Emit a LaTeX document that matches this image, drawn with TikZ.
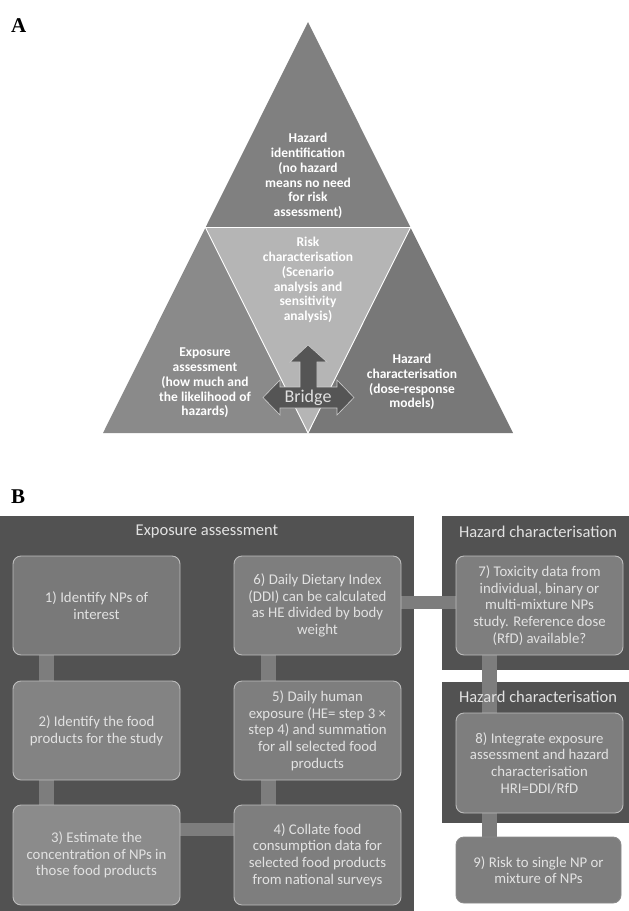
\documentclass[tikz,border=0pt]{standalone}
\usepackage{fontspec}
\setmainfont{Carlito}
\newfontfamily\panelfont{Liberation Serif}
\pgfdeclarelayer{panels}
\pgfdeclarelayer{links}
\pgfsetlayers{panels,links,main}
\definecolor{topgray}{HTML}{808080}
\definecolor{leftgray}{HTML}{8A8A8A}
\definecolor{rightgray}{HTML}{787878}
\definecolor{midgray}{HTML}{B5B5B5}
\definecolor{bridgegray}{HTML}{555555}
\definecolor{panelgray}{HTML}{525252}
\definecolor{boxgray}{HTML}{7E7E7E}
\definecolor{boxedge}{HTML}{BDBDBD}
\definecolor{linkgray}{HTML}{7D7D7D}
\definecolor{textgray}{HTML}{E2E2E2}
\tikzset{
  tri/.style={draw=white, line width=0.9pt, line join=miter},
  tritext/.style={text=white, font=\bfseries\fontsize{13.5}{14.8}\selectfont, align=center, inner sep=0pt},
  panel/.style={fill=panelgray, draw=none, inner sep=0pt, anchor=north west},
  paneltitle/.style={text=textgray, font=\fontsize{16.5}{19}\selectfont, inner sep=0pt},
  stepbox/.style={rounded corners=8pt, fill=boxgray, draw=boxedge, line width=0.9pt, text=textgray,
    font=\fontsize{14.8}{16.7}\selectfont, align=center, minimum width=167pt, minimum height=99pt, inner sep=2pt},
  link/.style={draw=linkgray, line width=14pt},
  letter/.style={font=\panelfont\bfseries\fontsize{21}{24}\selectfont, anchor=base west, inner sep=0pt}
}
\begin{document}
\begin{tikzpicture}[x=1pt, y=-1pt]
\useasboundingbox (0,0) rectangle (629,911);

% ---------- Panel A ----------
\node[letter] (la) at (11,32) {A};
\coordinate (apex) at (308,22);
\coordinate (bl) at (103,433);
\coordinate (br) at (513,433);
\coordinate (ml) at (205.5,227.5);
\coordinate (mr) at (410.5,227.5);
\coordinate (mb) at (308,433);
\fill[topgray] (apex) -- (ml) -- (mr) -- cycle;
\fill[leftgray] (ml) -- (bl) -- (mb) -- cycle;
\fill[rightgray] (mr) -- (mb) -- (br) -- cycle;
\fill[midgray] (ml) -- (mr) -- (mb) -- cycle;
\draw[tri] (ml) -- (mr) -- (mb) -- cycle;

\node[tritext] (hid) at (308,176) {Hazard\\identification\\(no hazard\\means no need\\for risk\\assessment)};
\node[tritext] (rch) at (308,280) {Risk\\characterisation\\(Scenario\\analysis and\\sensitivity\\analysis)};
\node[tritext] (exa) at (205,383) {Exposure\\assessment\\(how much and\\the likelihood of\\hazards)};
\node[tritext] (hch) at (412,382) {Hazard\\characterisation\\(dose-response\\models)};

\draw[fill=bridgegray, draw=white!80!black, line width=0.6pt, line join=miter]
  (308,345) -- (327,362) -- (317,362) -- (317,387) -- (337,387) -- (337,380) -- (354,397.5)
  -- (337,415) -- (337,408) -- (280,408) -- (280,415) -- (263,397.5) -- (280,380) -- (280,387)
  -- (300,387) -- (300,362) -- (290,362) -- cycle;
\node[text=white!88!black, font=\fontsize{18}{20}\selectfont, inner sep=0pt] (bridge) at (308,398) {Bridge};

% ---------- Panel B ----------
\node[letter] (lb) at (11,503) {B};

\begin{pgfonlayer}{panels}
\node[panel, minimum width=414pt, minimum height=395pt] (expanel) at (0,516) {};
\node[panel, minimum width=187pt, minimum height=154pt] (hzpanel1) at (442,516) {};
\node[panel, minimum width=187pt, minimum height=141pt] (hzpanel2) at (442,682) {};
\end{pgfonlayer}

\node[paneltitle] (extitle) at (207,532) {Exposure assessment};
\node[paneltitle] (hztitle1) at (538,532) {Hazard characterisation};
\node[paneltitle] (hztitle2) at (538,697) {Hazard characterisation};

\node[stepbox, fill=boxgray!96!black] (b1) at (96.5,605.5) {1) Identify NPs of\\interest};
\node[stepbox, fill=boxgray!96!white] (b2) at (96.5,730.5) {2) Identify the food\\products for the study};
\node[stepbox, fill=boxgray!90!white, minimum height=100pt] (b3) at (96.5,855) {3) Estimate the\\concentration of NPs in\\those food products};
\node[stepbox, minimum height=100pt] (b4) at (317.5,855) {4) Collate food\\consumption data for\\selected food products\\from national surveys};
\node[stepbox] (b5) at (317.5,730.5) {5) Daily human\\exposure (HE= step 3 ×\\step 4) and summation\\for all selected food\\products};
\node[stepbox] (b6) at (317.5,605.5) {6) Daily Dietary Index\\(DDI) can be calculated\\as HE divided by body\\weight};
\node[stepbox] (b7) at (539.5,605.5) {7) Toxicity data from\\individual, binary or\\multi-mixture NPs\\study. Reference dose\\(RfD) available?};
\node[stepbox, minimum height=100pt] (b8) at (539.5,763) {8) Integrate exposure\\assessment and hazard\\characterisation\\HRI=DDI/RfD};
\node[stepbox, minimum width=165pt, minimum height=66pt, draw=boxgray!90!white] (b9) at (538.5,870) {9) Risk to single NP or\\mixture of NPs};

\begin{pgfonlayer}{links}
\draw[link, line width=15pt] ([xshift=-50pt]b1.south) -- ([xshift=-50pt]b2.north);
\draw[link, line width=15pt] ([xshift=-50pt]b2.south) -- ([xshift=-50pt]b3.north);
\draw[link, line width=15pt] ([xshift=-49pt]b6.south) -- ([xshift=-49pt]b5.north);
\draw[link, line width=15pt] ([xshift=-49pt]b5.south) -- ([xshift=-49pt]b4.north);
\draw[link, line width=13pt] ([yshift=25.5pt]b3.east) -- ([yshift=25.5pt]b4.west);
\draw[link, line width=13pt] ([yshift=3pt]b6.east) -- ([yshift=3pt]b7.west);
\draw[link, line width=15pt] ([xshift=-50pt]b7.south) -- ([xshift=-50pt]b8.north);
\draw[link, line width=15pt] ([xshift=-50pt]b8.south) -- ([xshift=-49pt]b9.north);
\end{pgfonlayer}
\end{tikzpicture}
\end{document}
